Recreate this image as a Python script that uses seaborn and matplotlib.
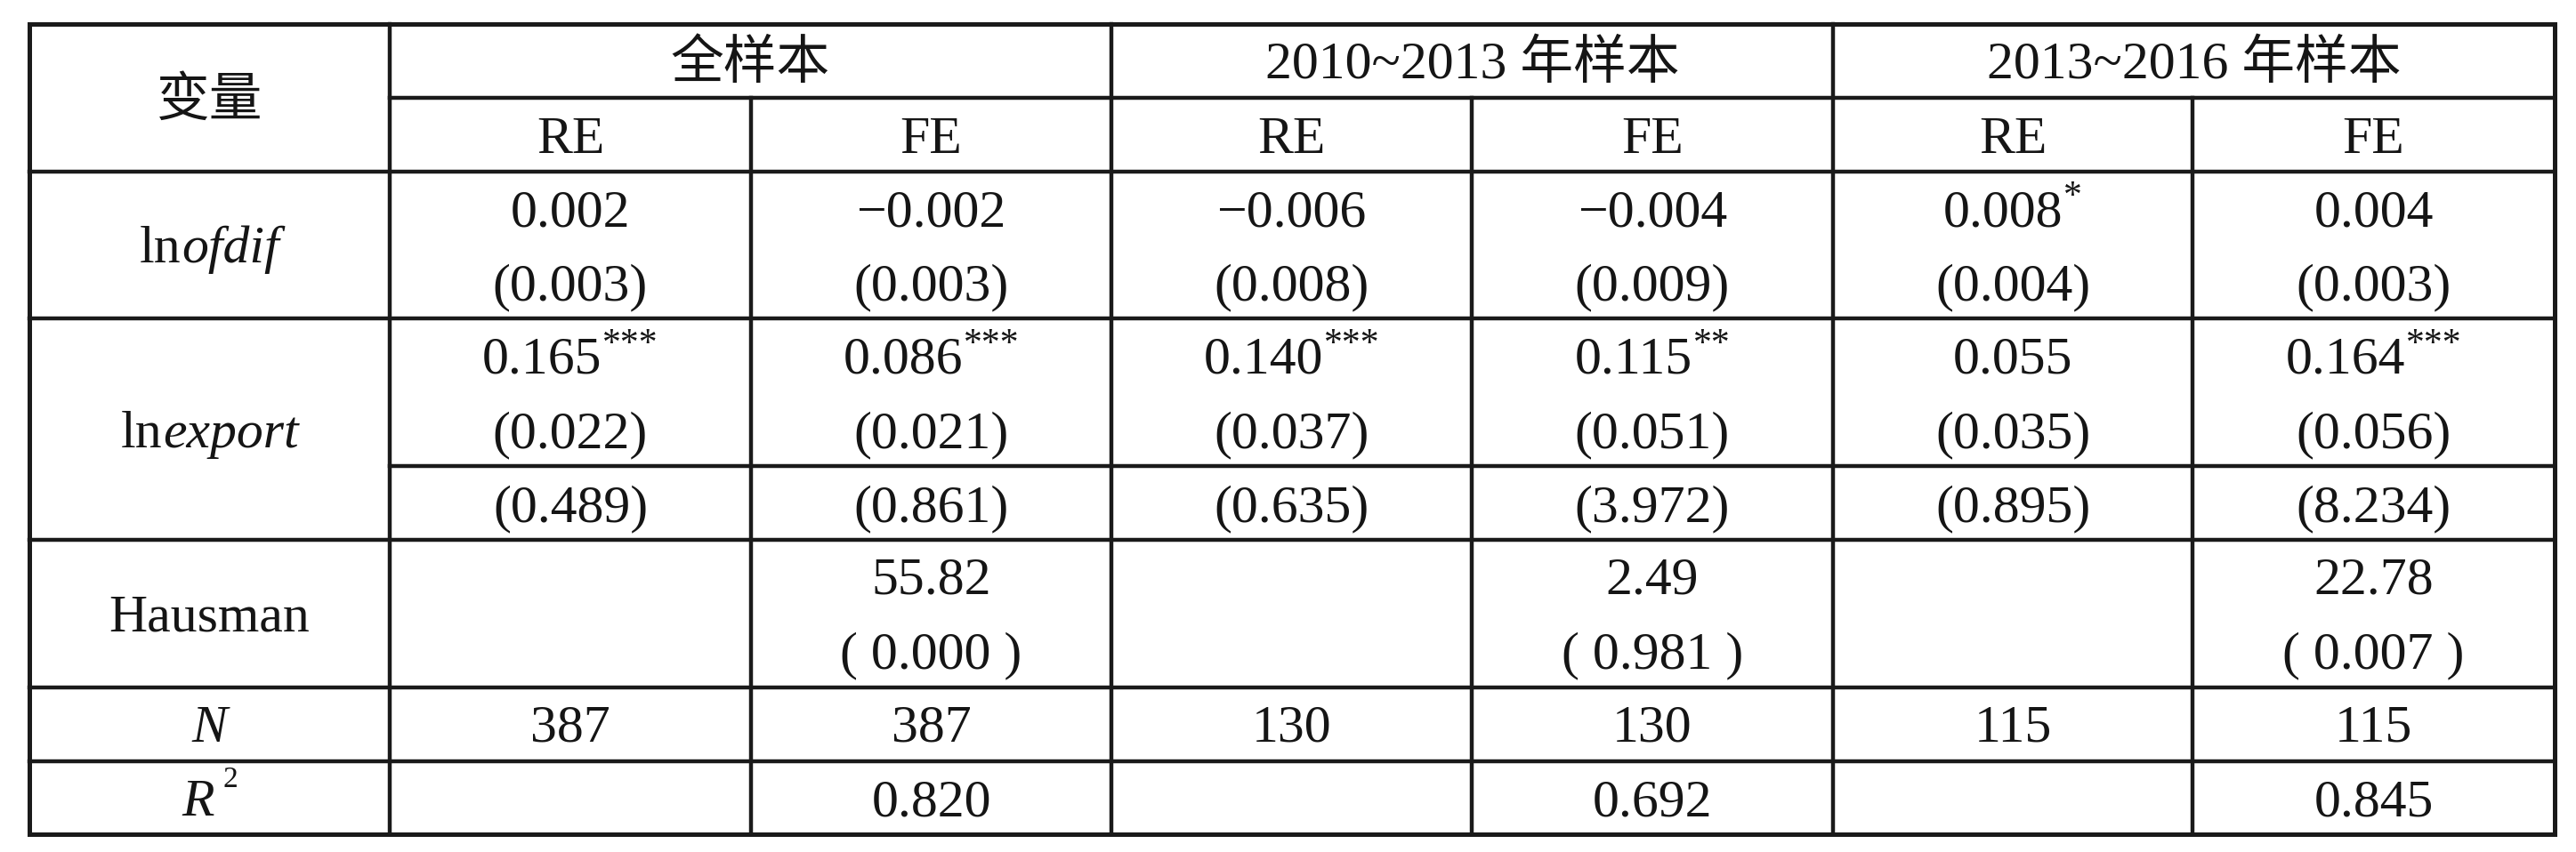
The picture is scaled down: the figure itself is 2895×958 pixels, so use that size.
import seaborn as sns
import matplotlib.pyplot as plt

# table contents
groups = ["全样本", "2010~2013 年样本", "2013~2016 年样本"]
models = ["RE", "FE", "RE", "FE", "RE", "FE"]
ofdif_coef = ["0.002", "−0.002", "−0.006", "−0.004", "0.008", "0.004"]
ofdif_star = ["", "", "", "", "*", ""]
ofdif_se = ["(0.003)", "(0.003)", "(0.008)", "(0.009)", "(0.004)", "(0.003)"]
export_coef = ["0.165", "0.086", "0.140", "0.115", "0.055", "0.164"]
export_star = ["***", "***", "***", "**", "", "***"]
export_se = ["(0.022)", "(0.021)", "(0.037)", "(0.051)", "(0.035)", "(0.056)"]
export_extra = ["(0.489)", "(0.861)", "(0.635)", "(3.972)", "(0.895)", "(8.234)"]
hausman_stat = ["", "55.82", "", "2.49", "", "22.78"]
hausman_p = ["", "( 0.000 )", "", "( 0.981 )", "", "( 0.007 )"]
n_obs = [387, 387, 130, 130, 115, 115]
r_squared = ["", "0.820", "", "0.692", "", "0.845"]

sns.set_theme(style="white")
plt.rcParams["font.family"] = ["Liberation Serif", "Noto Sans CJK SC"]

W, H = 2895, 958
fig = plt.figure(figsize=(W / 100, H / 100), dpi=100)
ax = fig.add_axes([0, 0, 1, 1])
ax.set_xlim(0, W)
ax.set_ylim(H, 0)
ax.axis("off")
renderer = fig.canvas.get_renderer()

FS = 43
INK = "#151515"
LINE = "#1a1a1a"
OFF = 20  # line centre -> baseline

xs = [33, 438, 844, 1249, 1654, 2060, 2464, 2871]
col_c = [(xs[i] + xs[i + 1]) / 2 for i in range(7)]
ys = [27, 110, 193, 358, 524, 607, 773, 856, 938]


def runs(xc, yc, parts):
    # parts: list of (text, size, style, raise, gap_before)
    items, total = [], 0
    for s, size, style, rise, gap in parts:
        if not s:
            continue
        t = ax.text(0, yc + OFF - rise, s, fontsize=size, fontstyle=style,
                    color=INK, ha="left", va="baseline")
        w = t.get_window_extent(renderer).width
        items.append((t, w, gap))
        total += w + gap
    x = xc - total / 2
    for t, w, gap in items:
        x += gap
        t.set_x(x)
        x += w


def cell(xc, yc, s, star=""):
    runs(xc, yc, [(s, FS, "normal", 0, 0), (star, 30, "normal", 22, 1)])


# grid lines
def seg(x0, x1, y0, y1, lw=3.2):
    ax.plot([x0, x1], [y0, y1], color=LINE, lw=lw, solid_capstyle="projecting")


for y in [ys[0], ys[-1]]:
    seg(xs[0], xs[-1], y, y, lw=3.6)
for y in [ys[2], ys[3], ys[5], ys[6], ys[7]]:
    seg(xs[0], xs[-1], y, y)
for y in [ys[1], ys[4]]:
    seg(xs[1], xs[-1], y, y)
for x in [xs[0], xs[-1]]:
    seg(x, x, ys[0], ys[-1], lw=3.6)
for x in [xs[1], xs[3], xs[5]]:
    seg(x, x, ys[0], ys[-1])
for x in [xs[2], xs[4], xs[6]]:
    seg(x, x, ys[1], ys[-1])

# header
cell(col_c[0], 110, "变量")
for g, name in enumerate(groups):
    cell((xs[1 + 2 * g] + xs[3 + 2 * g]) / 2, 68, name)
for j, m in enumerate(models):
    cell(col_c[j + 1], 152, m)

# row labels
runs(col_c[0], 275, [("ln", FS, "normal", 0, 0), ("ofdif", FS, "italic", 0, 1)])
runs(col_c[0], 483, [("ln", FS, "normal", 0, 0), ("export", FS, "italic", 0, 1)])
cell(col_c[0], 690, "Hausman")
runs(col_c[0], 814, [("N", FS, "italic", 0, 0)])
runs(col_c[0], 897, [("R", FS, "italic", 0, 0), ("2", 24, "normal", 32, 10)])

# body
for j in range(6):
    xc = col_c[j + 1]
    cell(xc, 234, ofdif_coef[j], ofdif_star[j])
    cell(xc, 317, ofdif_se[j])
    cell(xc, 400, export_coef[j], export_star[j])
    cell(xc, 483, export_se[j])
    cell(xc, 566, export_extra[j])
    cell(xc, 648, hausman_stat[j])
    cell(xc, 731, hausman_p[j])
    cell(xc, 814, str(n_obs[j]))
    cell(xc, 897, r_squared[j])

fig.savefig("out.png", dpi=100, facecolor="white")
